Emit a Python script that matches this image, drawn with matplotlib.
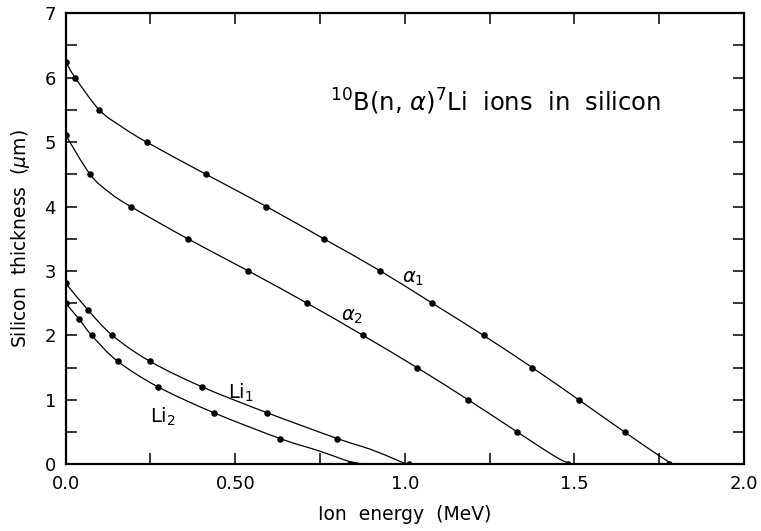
import matplotlib
matplotlib.use("Agg")
import matplotlib.pyplot as plt
from matplotlib.path import Path
from matplotlib.patches import PathPatch

plt.rcParams['font.family'] = ['DejaVu Sans']
plt.rcParams['mathtext.fontset'] = 'dejavusans'

# measured points (energy in MeV, thickness in um)
a1_x = [0.0, 0.028, 0.099, 0.239, 0.414, 0.592, 0.761, 0.928, 1.081, 1.232, 1.376, 1.513, 1.648, 1.78]
a1_y = [6.25, 6.0, 5.5, 5.0, 4.5, 4.0, 3.5, 3.0, 2.5, 2.0, 1.5, 1.0, 0.5, 0.0]
a2_x = [0.0, 0.072, 0.192, 0.360, 0.539, 0.712, 0.877, 1.036, 1.187, 1.332, 1.48]
a2_y = [5.11, 4.5, 4.0, 3.5, 3.0, 2.5, 2.0, 1.5, 1.0, 0.5, 0.0]
li1_x = [0.0, 0.065, 0.138, 0.248, 0.403, 0.594, 0.801, 1.011]
li1_y = [2.81, 2.4, 2.0, 1.6, 1.2, 0.8, 0.4, 0.0]
li2_x = [0.0, 0.040, 0.077, 0.153, 0.273, 0.437, 0.632, 0.839]
li2_y = [2.5, 2.25, 2.0, 1.6, 1.2, 0.8, 0.4, 0.0]

# fitted range curves
a1_fx = [0.0, 0.028, 0.099, 0.165, 0.239, 0.414, 0.592, 0.761, 0.928, 1.081, 1.232, 1.376, 1.513, 1.648, 1.748, 1.79]
a1_fy = [6.25, 6.0, 5.5, 5.24, 5.0, 4.5, 4.0, 3.5, 3.0, 2.5, 2.0, 1.5, 1.0, 0.5, 0.14, 0.0]
a2_fx = [0.0, 0.072, 0.131, 0.192, 0.360, 0.539, 0.712, 0.877, 1.036, 1.187, 1.332, 1.428, 1.468, 1.495]
a2_fy = [5.11, 4.5, 4.21, 4.0, 3.5, 3.0, 2.5, 2.0, 1.5, 1.0, 0.5, 0.17, 0.05, 0.0]
li1_fx = [0.0, 0.065, 0.138, 0.248, 0.403, 0.594, 0.801, 0.90, 0.97, 1.005]
li1_fy = [2.81, 2.4, 2.0, 1.6, 1.2, 0.8, 0.4, 0.23, 0.08, 0.0]
li2_fx = [0.0, 0.040, 0.077, 0.153, 0.273, 0.437, 0.632, 0.74, 0.80, 0.839, 0.885]
li2_fy = [2.5, 2.25, 2.0, 1.6, 1.2, 0.8, 0.4, 0.22, 0.11, 0.04, 0.0]

x_ticks = [0.0, 0.25, 0.5, 0.75, 1.0, 1.25, 1.5, 1.75, 2.0]
x_labels = ['0.0', '', '0.50', '', '1.0', '', '1.5', '', '2.0']
y_ticks = [0, 0.5, 1, 1.5, 2, 2.5, 3, 3.5, 4, 4.5, 5, 5.5, 6, 6.5, 7]
y_labels = ['0', '', '1', '', '2', '', '3', '', '4', '', '5', '', '6', '', '7']


def smooth_path(xs, ys):
    # Catmull-Rom curve through the points, as cubic Bezier segments
    pts = list(zip(xs, ys))
    verts = [pts[0]]
    codes = [Path.MOVETO]
    n = len(pts)
    for i in range(n - 1):
        p0 = pts[max(i - 1, 0)]
        p1 = pts[i]
        p2 = pts[i + 1]
        p3 = pts[min(i + 2, n - 1)]
        c1 = (p1[0] + (p2[0] - p0[0]) / 6, p1[1] + (p2[1] - p0[1]) / 6)
        c2 = (p2[0] - (p3[0] - p1[0]) / 6, p2[1] - (p3[1] - p1[1]) / 6)
        verts += [c1, c2, p2]
        codes += [Path.CURVE4] * 3
    return Path(verts, codes)


fig = plt.figure(figsize=(7.61, 5.31), dpi=100)
ax = fig.add_axes([0.0863, 0.1256, 0.8914, 0.8494])

for fx, fy, px, py in [(a1_fx, a1_fy, a1_x, a1_y), (a2_fx, a2_fy, a2_x, a2_y),
                       (li1_fx, li1_fy, li1_x, li1_y), (li2_fx, li2_fy, li2_x, li2_y)]:
    ax.add_patch(PathPatch(smooth_path(fx, fy), fill=False, edgecolor='k', lw=0.9))
    ax.plot(px, py, 'o', color='k', ms=4.7, mew=0)

ax.set_xlim(0, 2.0)
ax.set_ylim(0, 7)
ax.set_xticks(x_ticks)
ax.set_xticklabels(x_labels)
ax.set_yticks(y_ticks)
ax.set_yticklabels(y_labels)
ax.tick_params(direction='in', length=8, width=1.1, top=True, right=True,
               labelsize=13)
ax.tick_params(axis='x', pad=8)
ax.tick_params(axis='y', pad=7)
for sp in ax.spines.values():
    sp.set_linewidth(1.6)

ax.set_xlabel('Ion  energy  (MeV)', fontsize=13.5)
ax.set_ylabel(r'Silicon  thickness  ($\mu$m)', fontsize=13.5)
ax.xaxis.set_label_coords(0.5, -0.09)
ax.yaxis.set_label_coords(-0.05, 0.5)

ax.text(0.78, 5.48, r'$^{10}$B(n, $\alpha$)$^{7}$Li  ions  in  silicon', fontsize=17.5)
ax.text(1.025, 2.88, r'$\alpha_1$', fontsize=14, ha='center', va='center')
ax.text(0.845, 2.30, r'$\alpha_2$', fontsize=14, ha='center', va='center')
ax.text(0.518, 1.11, r'Li$_1$', fontsize=14, ha='center', va='center')
ax.text(0.288, 0.73, r'Li$_2$', fontsize=14, ha='center', va='center')

fig.savefig('out.png')
